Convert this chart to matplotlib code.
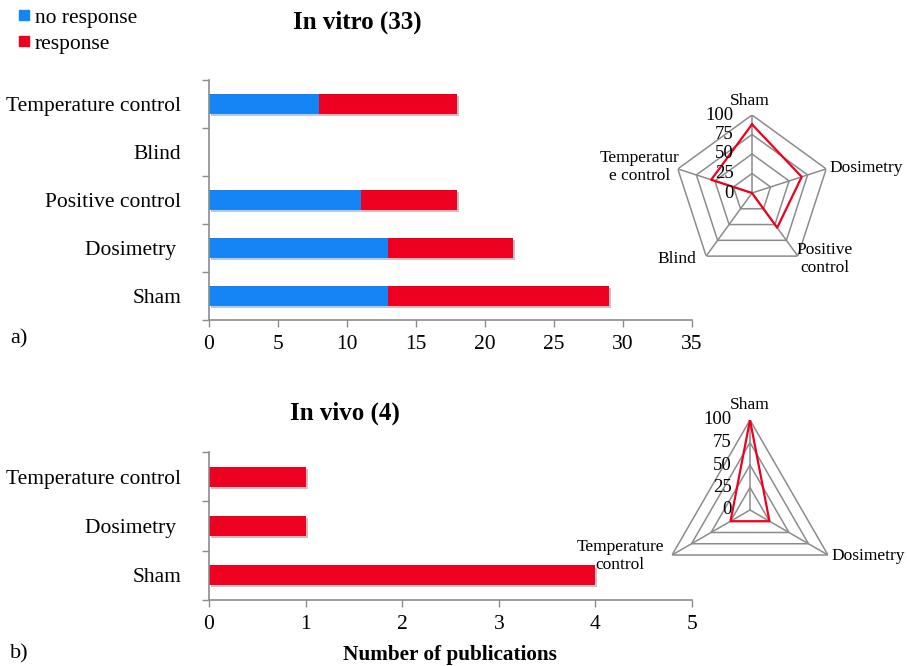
import numpy as np
import matplotlib
matplotlib.use("Agg")
import matplotlib.pyplot as plt
import matplotlib.patheffects as pe

plt.rcParams['font.family'] = 'Liberation Serif'

# in vitro studies (33 publications)
vitro_cats = ["Sham", "Dosimetry ", "Positive control", "Blind", "Temperature control"]
vitro_no_resp = [13, 13, 11, 0, 8]
vitro_resp = [16, 9, 7, 0, 10]

# in vivo studies (4 publications)
vivo_cats = ["Sham", "Dosimetry ", "Temperature control"]
vivo_no_resp = [0, 0, 0]
vivo_resp = [4, 1, 1]

# radar: share of publications (%) per criterion, clockwise from top
vitro_radar_labels = ["Sham", "Dosimetry", "Positive\ncontrol", "Blind", "Temperatur\ne control"]
vitro_radar = [88, 67, 55, 0, 55]
vivo_radar_labels = ["Sham", "Dosimetry", "Temperature\ncontrol"]
vivo_radar = [100, 25, 25]
rings = [0, 25, 50, 75, 100]

BLUE = "#1585F5"
RED = "#EE0020"
GREY = "#8C8C8C"

W, H = 907, 666
fig = plt.figure(figsize=(W / 100, H / 100), dpi=100)


def px_axes(x0, y0, x1, y1, **kw):
    return fig.add_axes([x0 / W, 1 - y1 / H, (x1 - x0) / W, (y1 - y0) / H], **kw)


shadow = [pe.SimplePatchShadow(offset=(1.5, -1.5), alpha=0.25), pe.Normal()]


def bar_panel(ax, cats, no_resp, resp, xmax):
    y = np.arange(len(cats))
    ax.barh(y, no_resp, height=0.4, color=BLUE, path_effects=shadow)
    ax.barh(y, resp, left=no_resp, height=0.4, color=RED, path_effects=shadow)
    ax.set_xlim(0, xmax)
    ax.set_ylim(-0.5, len(cats) - 0.5)
    ax.set_yticks(y)
    ax.set_yticklabels(cats, fontsize=15.5)
    ax.set_yticks(np.arange(len(cats) + 1) - 0.5, minor=True)
    ax.tick_params(axis='y', which='major', length=0, pad=20)
    ax.tick_params(axis='y', which='minor', length=5, color=GREY, width=1)
    ax.tick_params(axis='x', length=5, color=GREY, width=1, labelsize=15.5, pad=6)
    for s in ("top", "right"):
        ax.spines[s].set_visible(False)
    for s in ("left", "bottom"):
        ax.spines[s].set_color(GREY)
        ax.spines[s].set_linewidth(1.2)


ax1 = px_axes(209, 80, 692, 320)
bar_panel(ax1, vitro_cats, vitro_no_resp, vitro_resp, 35)
ax1.set_xticks(range(0, 36, 5))

ax2 = px_axes(209, 452, 692, 600)
bar_panel(ax2, vivo_cats, vivo_no_resp, vivo_resp, 5)
ax2.set_xticks(range(0, 6))


def radar(ax, labels, values, label_pos):
    n = len(labels)
    theta = np.linspace(0, 2 * np.pi, n, endpoint=False)
    closed = np.append(theta, theta[0])
    ax.set_theta_offset(np.pi / 2)
    ax.set_theta_direction(-1)
    ax.set_ylim(0, 100)
    ax.grid(False)
    ax.spines['polar'].set_visible(False)
    ax.set_xticks([])
    ax.set_yticks([])
    ax.patch.set_alpha(0)
    for r in rings[1:]:
        ax.plot(closed, [r] * (n + 1), color=GREY, lw=1.1)
    for t in theta:
        ax.plot([t, t], [0, 100], color=GREY, lw=1.1)
    ax.plot(closed, values + values[:1], color=RED, lw=1.6)
    for r in rings:
        ax.annotate(str(r), xy=(0, r), xytext=(-13, 0), textcoords='offset points',
                    ha='right', va='center', fontsize=13.5)
    for lab, (x, y, ha) in zip(labels, label_pos):
        fig.text(x / W, 1 - y / H, lab, ha=ha, va='center', fontsize=12.5,
                 linespacing=1.1)


rad1 = px_axes(674, 115, 830, 271, projection='polar')
radar(rad1, vitro_radar_labels, vitro_radar,
      [(750, 101, 'center'), (829, 168, 'left'), (825, 259, 'center'),
       (696, 259, 'right'), (640, 167, 'center')])

rad2 = px_axes(660, 420, 840, 600, projection='polar')
radar(rad2, vivo_radar_labels, vivo_radar,
      [(750, 405, 'center'), (831, 556, 'left'), (620, 556, 'center')])

# titles and annotations
fig.text(357 / W, 1 - 22 / H, "In vitro (33)", ha='center', va='center',
         fontsize=18, fontweight='bold')
fig.text(345 / W, 1 - 413 / H, "In vivo (4)", ha='center', va='center',
         fontsize=18, fontweight='bold')
fig.text(450 / W, 1 - 655 / H, "Number of publications", ha='center', va='center',
         fontsize=15.3, fontweight='bold')
fig.text(10 / W, 1 - 339 / H, "a)", ha='left', va='center', fontsize=16)
fig.text(10 / W, 1 - 654 / H, "b)", ha='left', va='center', fontsize=16)

# legend
for yy, col, lab in [(17, BLUE, "no response"), (43, RED, "response")]:
    fig.patches.append(plt.Rectangle((19 / W, 1 - (yy - 2 + 5) / H), 10 / W, 10 / H,
                                     transform=fig.transFigure, color=col))
    fig.text(35 / W, 1 - (yy + 1) / H, lab, ha='left', va='center', fontsize=15.5)

fig.savefig("out.png", dpi=100)
